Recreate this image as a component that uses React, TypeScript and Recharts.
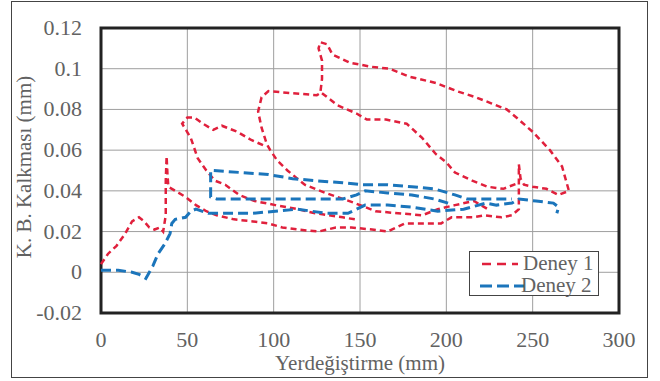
import React from 'react';
import { LineChart, Line, XAxis, YAxis, CartesianGrid, ReferenceArea, Legend } from 'recharts';

type Pt = [number, number];

const xTicks = [0, 50, 100, 150, 200, 250, 300];
const yTicks = [-0.02, 0, 0.02, 0.04, 0.06, 0.08, 0.1, 0.12];
const seriesNames = ['Deney 1', 'Deney 2'];
const xTitle = 'Yerdeğiştirme (mm)';
const yTitle = 'K. B. Kalkması (mm)';

// Deney 1 (red) traced segments
const deney1Main: Pt[] = [
  [0, 0.004], [4, 0.009], [9, 0.013], [14, 0.019], [18, 0.025], [22, 0.027], [25, 0.025], [28, 0.022],
  [31, 0.021], [34, 0.022], [36, 0.02], [37.5, 0.028], [37.5, 0.045], [38, 0.057], [38.5, 0.048],
  [39, 0.042], [43, 0.04], [49, 0.037], [55, 0.033], [61, 0.03], [67, 0.028], [77, 0.026],
  [88, 0.025], [97, 0.024], [105, 0.022], [114, 0.021], [126, 0.02], [136, 0.022], [145, 0.022],
  [157, 0.021], [166, 0.02], [176, 0.024], [186, 0.024], [197, 0.024], [203, 0.027], [215, 0.027],
  [222, 0.028], [232, 0.027], [238, 0.028], [242, 0.031], [242, 0.053], [243, 0.046], [245, 0.043],
  [250, 0.042], [258, 0.041], [265, 0.038], [271, 0.04], [267, 0.052], [260, 0.06], [250, 0.069],
  [242, 0.075], [235, 0.08], [226, 0.083], [217, 0.086], [206, 0.089], [194, 0.093], [179, 0.096],
  [167, 0.1], [156, 0.101], [144, 0.103], [134, 0.107], [131, 0.112], [127, 0.113], [126, 0.11],
  [128, 0.104], [128, 0.095], [127, 0.088], [125, 0.087], [110, 0.088], [97, 0.089], [93, 0.086],
  [91, 0.079], [93, 0.071], [96, 0.063], [98, 0.06], [102, 0.055], [108, 0.05], [118, 0.043],
  [130, 0.039], [147, 0.034], [159, 0.03], [172, 0.029], [186, 0.028], [195, 0.031], [205, 0.033],
  [216, 0.035], [224, 0.031],
];
const deney1Middle: Pt[] = [
  [128, 0.088], [137, 0.082], [148, 0.078], [154, 0.075], [165, 0.075], [177, 0.073], [186, 0.066],
  [194, 0.058], [200, 0.054], [205, 0.049], [215, 0.045], [224, 0.042], [233, 0.041], [242, 0.044],
];
const deney1Small: Pt[] = [
  [147, 0.026], [140, 0.027], [124, 0.029], [114, 0.031], [101, 0.033], [89, 0.035], [80, 0.038],
  [72, 0.043], [66, 0.045], [61, 0.05], [56, 0.056], [52, 0.066], [47, 0.073], [50, 0.076],
  [54, 0.076], [59, 0.073], [65, 0.07], [70, 0.072], [73, 0.071], [79, 0.069], [87, 0.065], [95, 0.062],
];

// Deney 2 (blue) traced segments
const deney2Main: Pt[] = [
  [0, 0.001], [10, 0.001], [18, 0.0], [22, -0.001], [26, -0.003], [28, 0.0], [30, 0.003], [33, 0.009],
  [37, 0.014], [40, 0.019], [41, 0.024], [43, 0.026], [49, 0.027], [52, 0.03], [55, 0.031], [62, 0.029],
  [72, 0.029], [88, 0.029], [101, 0.03], [114, 0.031], [130, 0.029], [143, 0.029], [153, 0.033],
  [166, 0.033], [180, 0.032], [195, 0.03], [210, 0.031], [223, 0.034], [229, 0.033], [238, 0.034],
  [242, 0.036], [252, 0.035], [262, 0.034], [265, 0.032], [264, 0.029],
];
const deney2Upper: Pt[] = [
  [201, 0.034], [193, 0.036], [180, 0.038], [166, 0.039], [153, 0.04], [148, 0.038], [140, 0.036],
  [126, 0.036], [111, 0.036], [95, 0.036], [80, 0.036], [67, 0.036], [63.5, 0.037], [63.5, 0.05],
  [65, 0.05], [81, 0.049], [97, 0.048], [111, 0.046], [124, 0.045], [140, 0.044], [151, 0.043],
  [166, 0.043], [180, 0.042], [193, 0.041], [205, 0.038], [212, 0.036], [226, 0.036], [238, 0.036],
];

const joinSegments = (segs: Pt[][]) => {
  const out: { x: number; y: number | null }[] = [];
  segs.forEach((seg, i) => {
    if (i > 0) out.push({ x: seg[0][0], y: null });
    seg.forEach(([x, y]) => out.push({ x, y }));
  });
  return out;
};

const deney1Data = joinSegments([deney1Main, deney1Middle, deney1Small]);
const deney2Data = joinSegments([deney2Main, deney2Upper]);

const FONT = '"Liberation Serif", "Times New Roman", serif';
const TXT = '#626262';

const XTick = (props: any) => {
  const { x, payload } = props;
  return (
    <text x={x} y={347} textAnchor="middle" fontFamily={FONT} fontSize={22} fill={TXT}>
      {String(payload.value)}
    </text>
  );
};

const YTick = (props: any) => {
  const { y, payload } = props;
  return (
    <text x={82} y={y + 7} textAnchor="end" fontFamily={FONT} fontSize={22} fill={TXT}>
      {String(payload.value)}
    </text>
  );
};

const LegendBox = (props: any) => {
  const items = props.payload || [];
  return (
    <div
      style={{
        width: 130,
        height: 45,
        border: '1px solid #444',
        background: '#fff',
        boxSizing: 'border-box',
        position: 'relative',
      }}
    >
      {items.map((it: any, i: number) => (
        <div key={i} style={{ position: 'absolute', left: 0, top: i === 0 ? 1 : 23, height: 22, width: 130 }}>
          <svg width={52} height={22} style={{ position: 'absolute', left: 8, top: 0 }}>
            <line
              x1={i === 0 ? 4 : 2}
              x2={i === 0 ? 40 : 46}
              y1={11}
              y2={11}
              stroke={it.color}
              strokeWidth={i === 0 ? 2.5 : 3}
              strokeDasharray={i === 0 ? '9 6' : '12 5'}
            />
          </svg>
          <span
            style={{
              position: 'absolute',
              left: i === 0 ? 53 : 51,
              top: -2,
              fontFamily: FONT,
              fontSize: 21,
              color: TXT,
              whiteSpace: 'nowrap',
            }}
          >
            {it.value}
          </span>
        </div>
      ))}
    </div>
  );
};

export default function App() {
  return (
    <div style={{ position: 'absolute', left: 0, top: 0, width: 660, height: 381, background: '#fff' }}>
      <div
        style={{
          position: 'absolute',
          left: 11,
          top: 1,
          width: 637,
          height: 377,
          border: '1px solid #444',
          boxSizing: 'border-box',
        }}
      />
      <LineChart width={660} height={381} margin={{ top: 28, right: 41, bottom: 28, left: 41 }}>
        <CartesianGrid stroke="#9e9e9e" strokeWidth={1} />
        <XAxis
          type="number"
          dataKey="x"
          domain={[0, 300]}
          ticks={xTicks}
          interval={0}
          axisLine={false}
          tickLine={false}
          height={40}
          tick={<XTick />}
        />
        <YAxis
          type="number"
          domain={[-0.02, 0.12]}
          ticks={yTicks}
          interval={0}
          axisLine={false}
          tickLine={false}
          width={60}
          tick={<YTick />}
        />
        <ReferenceArea
          x1={0}
          x2={300}
          y1={-0.02}
          y2={0.12}
          fill="none"
          fillOpacity={0}
          stroke="#222"
          strokeWidth={3}
          ifOverflow="visible"
        />
        <Line
          data={deney1Data}
          dataKey="y"
          name={seriesNames[0]}
          stroke="#e0203c"
          strokeWidth={2.5}
          strokeDasharray="6 4"
          dot={false}
          activeDot={false}
          isAnimationActive={false}
        />
        <Line
          data={deney2Data}
          dataKey="y"
          name={seriesNames[1]}
          stroke="#1b75bb"
          strokeWidth={3}
          strokeDasharray="10 5"
          dot={false}
          activeDot={false}
          isAnimationActive={false}
        />
        <Legend
          layout="horizontal"
          verticalAlign="middle"
          align="center"
          content={(p: any) => <LegendBox payload={p.payload} />}
          wrapperStyle={{ position: 'absolute', left: 469, top: 251, width: 130, height: 45, bottom: 'auto', right: 'auto' }}
        />
      </LineChart>
      <svg width={660} height={381} style={{ position: 'absolute', left: 0, top: 0, pointerEvents: 'none' }}>
        <text
          transform="translate(31,167) rotate(-90)"
          textAnchor="middle"
          fontFamily={FONT}
          fontSize={21}
          fill={TXT}
        >
          {yTitle}
        </text>
        <text x={360} y={370} textAnchor="middle" fontFamily={FONT} fontSize={21} fill={TXT}>
          {xTitle}
        </text>
      </svg>
    </div>
  );
}
